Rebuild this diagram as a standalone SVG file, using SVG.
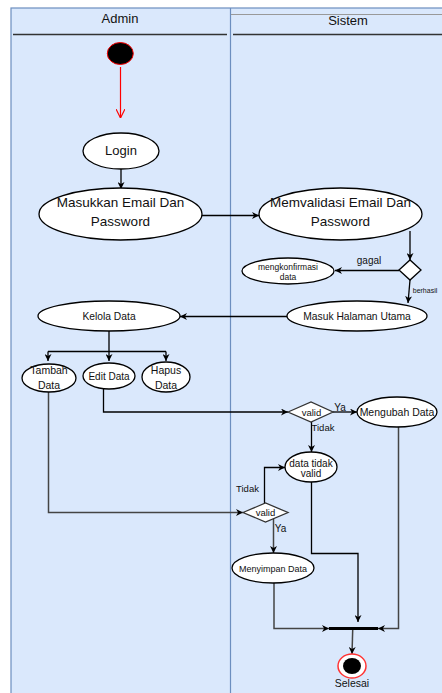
<svg xmlns="http://www.w3.org/2000/svg" width="442" height="693" viewBox="0 0 442 693">
<style>
text{font-family:"Liberation Sans",Arial,sans-serif;fill:#111;text-anchor:middle}
.act{fill:#fff;stroke:#000;stroke-width:1.3}
.dec{fill:#fff;stroke:#333;stroke-width:1.3}
.c{fill:none;stroke:#000;stroke-width:1.3}
.g{fill:none;stroke:#444;stroke-width:1.5}
</style>
<defs>
<marker id="ah" viewBox="0 0 10 10" refX="10" refY="5" markerWidth="7" markerHeight="7" orient="auto" markerUnits="userSpaceOnUse">
<path d="M0,0 L10,5 L0,10 L3,5 z" fill="#000"/>
</marker>
<marker id="ahr" viewBox="0 0 10 10" refX="10" refY="5" markerWidth="9" markerHeight="9" orient="auto" markerUnits="userSpaceOnUse">
<path d="M0,0 L10,5 L0,10" fill="none" stroke="#f00" stroke-width="1.3"/>
</marker>
</defs>

<g id="lanes">
<rect x="11" y="8" width="440" height="700" fill="#dae8fc" stroke="#6c8ebf" stroke-width="1.2"/>
<line x1="230.5" y1="8" x2="230.5" y2="693" stroke="#6c8ebf" stroke-width="1.2"/>
<line x1="231" y1="14.5" x2="442" y2="14.5" stroke="#999" stroke-width="1"/>
<line x1="13" y1="34.5" x2="227" y2="34.5" stroke="#333" stroke-width="1.3"/>
<line x1="233" y1="34.5" x2="442" y2="34.5" stroke="#333" stroke-width="1.3"/>
<text x="120" y="23" font-size="13">Admin</text>
<text x="348" y="24.5" font-size="13">Sistem</text>
</g>

<g id="connectors">
<line x1="120.5" y1="67" x2="120.5" y2="118" stroke="#f00" stroke-width="1.2" marker-end="url(#ahr)"/>
<line class="c" x1="121" y1="169" x2="121" y2="189" marker-end="url(#ah)"/>
<line class="c" x1="202" y1="215.5" x2="259" y2="215.5" marker-end="url(#ah)"/>
<line class="c" x1="410" y1="231" x2="410" y2="260" marker-end="url(#ah)"/>
<line class="c" x1="399" y1="270.5" x2="335" y2="270.5" marker-end="url(#ah)"/>
<line class="c" x1="410" y1="280" x2="408" y2="303" marker-end="url(#ah)"/>
<line class="c" x1="287" y1="316.5" x2="180" y2="316.5" marker-end="url(#ah)"/>
<path class="c" d="M109,331 V351.5 M48,351.5 H166"/>
<line class="c" x1="48" y1="351.5" x2="48" y2="361" marker-end="url(#ah)"/>
<line class="c" x1="109" y1="351.5" x2="109" y2="361" marker-end="url(#ah)"/>
<line class="c" x1="166" y1="351.5" x2="166" y2="361" marker-end="url(#ah)"/>
<path class="c" d="M103.5,389 V412 H288" marker-end="url(#ah)"/>
<line class="c" x1="333" y1="412" x2="357" y2="412" marker-end="url(#ah)"/>
<line class="c" x1="311.5" y1="422" x2="311.5" y2="452" marker-end="url(#ah)"/>
<path class="g" d="M48.5,392 V512.5 H243" marker-end="url(#ah)"/>
<path class="c" d="M264.5,503 V467.5 H285" marker-end="url(#ah)"/>
<line class="g" x1="273.5" y1="518.5" x2="273.5" y2="553" marker-end="url(#ah)"/>
<path class="g" d="M274,583 V628.5 H329" marker-end="url(#ah)"/>
<path class="c" d="M311.5,482 V553.5 H358 V622" marker-end="url(#ah)"/>
<path class="g" d="M398.5,427 V628.5 H378" marker-end="url(#ah)"/>
<line class="g" x1="352.7" y1="630" x2="352" y2="654" marker-end="url(#ah)"/>
<text x="369" y="264" font-size="10">gagal</text>
<text x="425" y="293" font-size="7" fill="#333">berhasil</text>
<text x="340" y="411" font-size="10">Ya</text>
<text x="323" y="431" font-size="9.5">Tidak</text>
<text x="247.5" y="492" font-size="9.5">Tidak</text>
<text x="280.5" y="532" font-size="10">Ya</text>
</g>

<g id="start"><ellipse cx="120.3" cy="53.5" rx="13" ry="11" fill="#000" stroke="#f00" stroke-width="1"/></g>
<g id="login"><ellipse class="act" cx="121" cy="151" rx="38" ry="18"/><text x="121" y="155" font-size="13">Login</text></g>
<g id="masukkan"><ellipse class="act" cx="120.5" cy="214" rx="81.5" ry="26"/><text x="120.5" y="207" font-size="13.5">Masukkan Email Dan</text><text x="120.5" y="226" font-size="13.5">Password</text></g>
<g id="memvalidasi"><ellipse class="act" cx="340.5" cy="214" rx="81.5" ry="26"/><text x="340.5" y="207" font-size="13.5">Memvalidasi Email Dan</text><text x="340.5" y="226" font-size="13.5">Password</text></g>
<g id="decision1"><polygon class="act" points="399,270 410,260 421,270 410,280"/></g>
<g id="mengkonfirmasi"><ellipse class="act" cx="288" cy="271" rx="46" ry="13"/><text x="288" y="270" font-size="8.5" fill="#333">mengkonfirmasi</text><text x="288" y="280" font-size="8.5" fill="#333">data</text></g>
<g id="masuk"><ellipse class="act" cx="357" cy="316" rx="70" ry="15"/><text x="357" y="320" font-size="10.3">Masuk Halaman Utama</text></g>
<g id="kelola"><ellipse class="act" cx="109" cy="316" rx="71" ry="15"/><text x="109" y="320" font-size="10.3">Kelola Data</text></g>
<g id="tambah"><ellipse class="act" cx="49" cy="378" rx="27" ry="14"/><text x="49" y="373.5" font-size="10.5">Tambah</text><text x="49" y="388.5" font-size="10.5">Data</text></g>
<g id="edit"><ellipse class="act" cx="109" cy="376" rx="26" ry="13"/><text x="109" y="380" font-size="10">Edit Data</text></g>
<g id="hapus"><ellipse class="act" cx="166" cy="377" rx="24" ry="15"/><text x="166" y="373.5" font-size="10.5">Hapus</text><text x="166" y="388.5" font-size="10.5">Data</text></g>
<g id="valid1"><polygon class="dec" points="288,412 311,402 333,412 311,422"/><text x="311.5" y="416" font-size="9.5">valid</text></g>
<g id="mengubah"><ellipse class="act" cx="397" cy="412" rx="40" ry="15"/><text x="397" y="415.5" font-size="10.5">Mengubah Data</text></g>
<g id="tidakvalid"><ellipse class="act" cx="311" cy="467" rx="26" ry="15"/><text x="311" y="467" font-size="10">data tidak</text><text x="311" y="476.5" font-size="10">valid</text></g>
<g id="valid2"><polygon class="dec" points="243,512.5 265.5,503 288,512.5 265.5,522"/><text x="265.5" y="516" font-size="9.5">valid</text></g>
<g id="menyimpan"><ellipse class="act" cx="273" cy="568" rx="41" ry="15"/><text x="273" y="572" font-size="9" fill="#333">Menyimpan Data</text></g>
<g id="join"><line x1="329" y1="628.5" x2="378" y2="628.5" stroke="#000" stroke-width="3"/></g>
<g id="end"><ellipse cx="352" cy="666" rx="14" ry="12" fill="#fff" stroke="#f33" stroke-width="1.5"/><ellipse cx="352" cy="666" rx="9" ry="8" fill="#000"/><text x="352" y="687" font-size="10.5" fill="#333">Selesai</text></g>
</svg>
